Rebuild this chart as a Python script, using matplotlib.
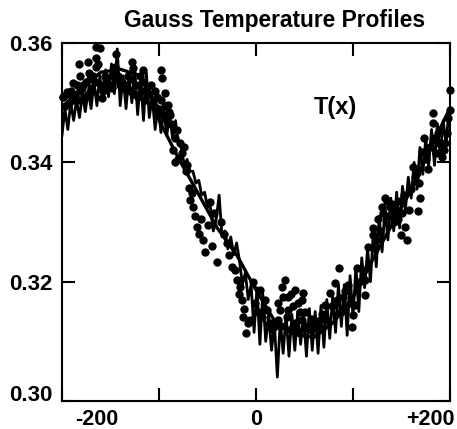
import matplotlib
matplotlib.use('Agg')
import matplotlib.pyplot as plt
from matplotlib.transforms import ScaledTranslation

plt.rcParams['font.family'] = ['Liberation Sans', 'DejaVu Sans']

TITLE = 'Gauss Temperature Profiles'
ANNOT = 'T(x)'
x_ticks = [-200, -100, 0, 100, 200]
x_labels = ['-200', '', '0', '', '+200']
y_ticks = [0.30, 0.32, 0.34, 0.36]
y_labels = ['0.30', '0.32', '0.34', '0.36']

smooth_x = [-200, -180, -160, -140, -120, -110, -100, -80, -60, -40, -20, 0, 20, 40, 60, 80, 100, 120, 140, 160, 180, 200]
smooth_y = [.3491, .3525, .3551, .3556, .3546, .3518, .3471, .3407, .3349, .3290, .3245, .3186, .3132, .3111, .3107,
            .3132, .3173, .3236, .3295, .3354, .3424, .3491]

jag_x = list(range(-200, 200, 3))
jag_y = [.3445, .3490, .3455, .3500, .3470, .3505, .3475, .3515, .3485, .3520, .3490,
         .3535, .3495, .3545, .3505, .3555, .3510, .3565, .3515, .3590, .3495,
         .3545, .3490, .3545, .3500, .3555, .3480, .3545, .3470, .3550, .3475,
         .3510, .3455, .3495, .3450, .3490, .3445, .3480, .3440, .3470, .3430,
         .3425, .3395, .3405, .3385, .3385, .3365, .3370, .3345, .3350, .3325,
         .3325, .3285, .3305, .3345, .3275, .3285, .3255, .3275, .3245, .3265,
         .3235, .3195, .3215, .3170, .3195, .3115, .3190, .3095, .3180, .3100,
         .3145, .3085, .3130, .3040, .3135, .3080, .3145, .3075, .3145, .3085,
         .3150, .3095, .3145, .3075, .3155, .3085, .3150, .3080, .3160, .3090,
         .3170, .3105, .3175, .3115, .3195, .3125, .3195, .3110, .3210, .3140,
         .3225, .3150, .3240, .3190, .3255, .3200, .3285, .3225, .3310, .3250,
         .3325, .3270, .3340, .3285, .3350, .3290, .3360, .3320, .3375, .3340,
         .3400, .3355, .3425, .3380, .3440, .3395, .3455, .3395, .3465, .3410,
         .3470, .3430, .3490]

# scatter points, grouped left to right (each x row pairs with the y row below it)
dots_x_left = [-199, -197, -195, -193, -191, -189, -187, -185, -183, -181, -179, -177, -175, -173, -171, -169, -181, -178, -172, -168, -165,
               -170, -166, -163, -160, -158, -156, -155, -153, -150, -148, -146, -144, -142, -140, -138, -136, -134, -132, -130,
               -128, -126, -124, -122, -120, -118, -116, -114, -112, -110, -108, -106, -104, -102, -100, -98, -96, -94, -92, -90,
               -182, -173, -165, -165, -161, -144, -128, -145, -127, -116, -98, -97, -159, -189, -199, -195]
dots_y_left = [.3510, .3495, .3515, .3500, .3520, .3505, .3512, .3530, .3505, .3520, .3525, .3510, .3535, .3515, .3540, .3520, .3545, .3530, .3550, .3545, .3560,
               .3525, .3535, .3565, .3530, .3520, .3545, .3540, .3530, .3530, .3525, .3550, .3540, .3545, .3530, .3535, .3525, .3530, .3545, .3520,
               .3540, .3515, .3530, .3510, .3545, .3520, .3535, .3505, .3525, .3515, .3530, .3500, .3520, .3510, .3490, .3505, .3480, .3495, .3470, .3485,
               .3565, .3568, .3575, .3593, .3592, .3582, .3568, .3560, .3558, .3555, .3555, .3541, .3508, .3533, .3510, .3518]

dots_x_fall = [-94, -91, -89, -81, -78, -86, -76, -84, -71, -69, -66, -68, -65, -47, -61, -40, -53, -25, -20, -16, -14, -13, -8, -10, -3, 4, 9, 11, 12,
               -88, -83, -80, -74, -72, -63, -59, -57, -55, -50, -45, -43, -36, -33, -30, -28, -22, -18, -12, -6, -1, 2, 6]
dots_y_fall = [.3516, .3496, .3479, .3454, .3432, .3421, .3416, .3401, .3396, .3357, .3349, .3337, .3325, .3334, .3292, .3233, .3250, .3225, .3203, .3191, .3169, .3141, .3131, .3114, .3199, .3186, .3169, .3153, .3127,
               .3465, .3440, .3405, .3425, .3385, .3310, .3280, .3305, .3270, .3295, .3260, .3315, .3300, .3280, .3265, .3245, .3220, .3180, .3155, .3135, .3165, .3150, .3140]

dots_x_hump = [30, 27, 40, 48, 33, 23, 47, 33, 25, 51, 36, 43, 28, 38, 45,
               23, 32, 47, 58, 66, 71, 76, 81, 86, 95, 90, 102, 99, 100, 104, 110, 112, 112, 115, 121, 121,
               14, 17, 20, 26, 36, 40, 44, 52, 55, 60, 63, 68, 73, 78, 83, 88, 92, 97, 106]
dots_y_hump = [.3203, .3191, .3186, .3181, .3174, .3164, .3169, .3153, .3153, .3149, .3180, .3165, .3175, .3160, .3150,
               .3136, .3141, .3136, .3137, .3136, .3161, .3181, .3198, .3223, .3194, .3174, .3161, .3124, .3144, .3223, .3220, .3203, .3178, .3258, .3290, .3278,
               .3130, .3120, .3125, .3125, .3120, .3130, .3115, .3125, .3120, .3130, .3125, .3145, .3135, .3160, .3170, .3150, .3185, .3165, .3200]

dots_x_rise = [133, 131, 138, 149, 156, 154, 167, 162, 166, 169, 173, 171, 177, 182, 182, 192, 195, 200, 200,
               124, 126, 128, 130, 135, 137, 140, 142, 144, 146, 148, 151, 153, 158, 160, 164, 168, 175, 179, 184, 186, 188, 190, 194, 197, 198]
dots_y_rise = [.3340, .3315, .3325, .3278, .3270, .3292, .3318, .3392, .3382, .3340, .3441, .3417, .3389, .3483, .3466, .3409, .3432, .3521, .3488,
               .3270, .3305, .3285, .3325, .3335, .3310, .3330, .3300, .3320, .3305, .3335, .3315, .3345, .3320, .3355, .3375, .3365, .3405, .3425, .3440, .3415, .3450, .3430, .3420, .3450, .3475]

dots_x = dots_x_left + dots_x_fall + dots_x_hump + dots_x_rise
dots_y = dots_y_left + dots_y_fall + dots_y_hump + dots_y_rise

fig = plt.figure(figsize=(4.57, 4.29), dpi=100)
W, H = 457, 429
ax = fig.add_axes([62 / W, 1 - 401 / H, 388 / W, 358 / H])

ax.plot(smooth_x, smooth_y, color='black', lw=2.4, solid_joinstyle='round', zorder=3)
ax.plot(jag_x, jag_y, color='black', lw=2.0, zorder=3)
ax.plot(dots_x, dots_y, ls='none', marker='o', ms=6, color='black', mew=0, zorder=4, clip_on=False)

ax.set_xlim(-200, 200)
ax.set_ylim(0.30, 0.36)
ax.set_xticks(x_ticks, x_labels, fontweight='bold', fontsize=15.5)
ax.set_yticks(y_ticks, y_labels, fontweight='bold', fontsize=16)
ax.tick_params(axis='both', direction='in', length=9.5, width=1.5, top=True, right=True, color='black')
ax.tick_params(axis='x', pad=5.5)
ax.tick_params(axis='y', pad=6.5)
for s in ax.spines.values():
    s.set_linewidth(1.5)

offs = {'-200': (35, 0), '+200': (-20, 0)}
for lab in ax.get_xticklabels():
    if lab.get_text() in offs:
        dx, dy = offs[lab.get_text()]
        lab.set_transform(lab.get_transform() + ScaledTranslation(dx / 100, dy / 100, fig.dpi_scale_trans))
for lab in ax.get_yticklabels():
    if lab.get_text() == '0.30':
        lab.set_transform(lab.get_transform() + ScaledTranslation(0, 8 / 100, fig.dpi_scale_trans))

ax.text(0.65, 0.82, ANNOT, transform=ax.transAxes, fontsize=17, fontweight='bold', ha='left', va='center')
fig.text(274 / W, 1 - 20 / H, TITLE, fontsize=16.4, fontweight='bold', ha='center', va='center')

fig.savefig('out.png', dpi=100)
